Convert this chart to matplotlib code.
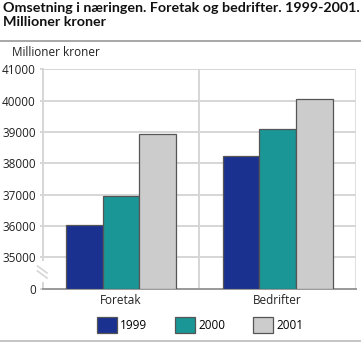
import numpy as np
import matplotlib
matplotlib.use("Agg")
import matplotlib.pyplot as plt
from matplotlib.lines import Line2D

plt.rcParams['font.family'] = ['Open Sans', 'DejaVu Sans']

# turnover, million NOK
categories = ['Foretak', 'Bedrifter']
years = ['1999', '2000', '2001']
v1999 = [36030, 38220]
v2000 = [36970, 39085]
v2001 = [38950, 40065]
yticks = [0, 35000, 36000, 37000, 38000, 39000, 40000, 41000]

colors = ['#1b3190', '#1a9696', '#cccccc']
edge = '#555555'
grid_c = '#d6d6d6'

# broken y axis: 0-35000 squeezed into one step
BREAK = 35000.0
STEP = 1000.0


def fwd(v):
    v = np.asarray(v, dtype=float)
    return np.where(v < BREAK, v / BREAK, 1 + (v - BREAK) / STEP)


def inv(p):
    p = np.asarray(p, dtype=float)
    return np.where(p < 1, p * BREAK, BREAK + (p - 1) * STEP)


fig = plt.figure(figsize=(3.61, 3.43), dpi=100)
ax = fig.add_axes([0.118, 0.158, 0.868, 0.640])
ax.set_yscale('function', functions=(fwd, inv))

x = np.arange(len(categories))
w = 0.234
for i, (vals, c) in enumerate(zip([v1999, v2000, v2001], colors)):
    ax.bar(x + (i - 1) * w, vals, w, color=c, edgecolor=edge, linewidth=0.9,
           label=years[i], zorder=3)

ax.set_xlim(-0.5, 1.5)
ax.set_ylim(0, 41000)
ax.set_yticks(yticks)
ax.set_yticklabels([str(t) for t in yticks])
ax.set_xticks(x)
ax.set_xticklabels(categories)
ax.tick_params(axis='y', length=2, width=1.4, color=grid_c, pad=3,
               labelsize=8.5, labelcolor='#222222')
ax.tick_params(axis='x', length=0, pad=4, labelsize=8.5, labelcolor='#222222')

# horizontal grid above the break
for t in yticks[1:]:
    ax.axhline(t, color=grid_c, lw=1.4, zorder=1)
# category divider and right border
ax.axvline(0.5, color=grid_c, lw=1.4, zorder=1)
ax.axvline(1.5, color=grid_c, lw=1.8, zorder=1)

for s in ['top', 'right', 'left']:
    ax.spines[s].set_visible(False)
ax.spines['bottom'].set_color('#999999')
ax.spines['bottom'].set_linewidth(1.4)

# left axis in two pieces with break marks
yt = ax.get_yaxis_transform()
ax.plot([0, 0], [32000, 41000], transform=yt, color=grid_c, lw=1.4,
        clip_on=False, zorder=2)
ax.plot([0, 0], [0, 6000], transform=yt, color=grid_c, lw=1.4,
        clip_on=False, zorder=2)
for dy in (0, 5):
    fig.add_artist(Line2D([37.5 / 361, 47 / 361],
                          [1 - (266 + dy) / 343, 1 - (273 + dy) / 343],
                          color=grid_c, lw=1.2))

# title block
fig.text(0.009, 0.995, 'Omsetning i næringen. Foretak og bedrifter. 1999-2001.\nMillioner kroner',
         ha='left', va='top', fontsize=10.3, fontweight='bold', color='#111111',
         linespacing=1.2, family=['Lato', 'DejaVu Sans'])
fig.add_artist(Line2D([0, 1], [1 - 40.5 / 343] * 2, color='#a0a0a0', lw=1.3))
fig.add_artist(Line2D([0, 1], [1 - 340.5 / 343] * 2, color='#c0c0c0', lw=1.3))
fig.text(12 / 361, 1 - 52 / 343, 'Millioner kroner', ha='left', va='center',
         fontsize=8.5, color='#222222')

fig.legend(loc='center', bbox_to_anchor=(0.554, 0.052), ncol=3, frameon=False,
           fontsize=8.5, handlelength=1.7, handleheight=1.7, handletextpad=0.25,
           columnspacing=2.4, borderaxespad=0)

fig.savefig('out.png', dpi=100)
